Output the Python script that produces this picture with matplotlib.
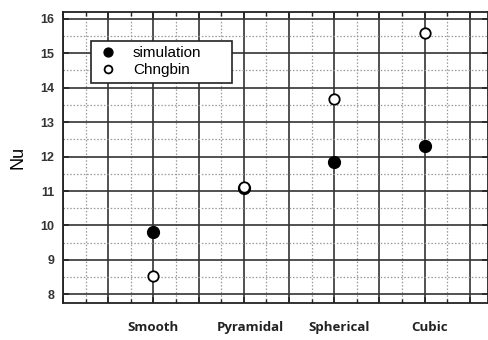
import matplotlib.pyplot as plt
from matplotlib.ticker import MultipleLocator
import matplotlib.transforms as mtransforms

# Data
surfaces = ['Smooth', 'Pyramidal', 'Spherical', 'Cubic']
x_pos = [2, 4, 6, 8]
simulation = [9.8, 11.08, 11.83, 12.3]
chngbin = [8.52, 11.12, 13.68, 15.6]

plt.rcParams['font.family'] = ['Liberation Sans', 'DejaVu Sans']

fig = plt.figure(figsize=(4.88, 3.4), dpi=100)
ax = fig.add_axes([0.129, 0.109, 0.871, 0.856])

ax.set_xlim(0, 9.4)
ax.set_ylim(7.75, 16.2)

ax.xaxis.set_major_locator(MultipleLocator(1))
ax.xaxis.set_minor_locator(MultipleLocator(0.5))
ax.yaxis.set_major_locator(MultipleLocator(1))
ax.yaxis.set_minor_locator(MultipleLocator(0.5))

ax.grid(True, which='major', color='#333333', linewidth=1.2, linestyle='-')
ax.grid(True, which='minor', color='#999999', linewidth=0.9, linestyle=(0, (1.2, 1.5)))
ax.set_axisbelow(True)

for s in ax.spines.values():
    s.set_color('#222222')
    s.set_linewidth(1.3)

ax.tick_params(which='both', direction='in', top=True, right=True, color='#222222')
ax.tick_params(which='major', length=4, width=1.1)
ax.tick_params(which='minor', length=3, width=1.0, left=False, right=False)
ax.tick_params(axis='x', labelbottom=False)
ax.tick_params(axis='y', labelsize=9, pad=6)
for lbl in ax.get_yticklabels():
    lbl.set_fontweight('bold')
    lbl.set_color('#333333')

ax.plot(x_pos, simulation, 'o', color='black', markersize=8.5, label='simulation', zorder=3)
ax.plot(x_pos, chngbin, 'o', markerfacecolor='white', markeredgecolor='black',
        markeredgewidth=1.3, markersize=7.5, label='Chngbin', zorder=4)

ax.set_ylabel('Nu', fontsize=13, labelpad=10)

trans = mtransforms.blended_transform_factory(ax.transData, ax.transAxes)
offsets = [0, 0.15, 0.1, 0.1]
for name, xp, off in zip(surfaces, x_pos, offsets):
    ax.text(xp + off, -0.085, name, transform=trans, ha='center', va='center',
            fontsize=9.5, fontweight='bold', family=['Open Sans', 'DejaVu Sans'], color='#222222')

leg = ax.legend(loc='upper left', bbox_to_anchor=(0.066, 0.0, 0.332, 0.90), mode='expand',
                fontsize=11, frameon=True, fancybox=False, edgecolor='#222222', framealpha=1,
                handlelength=1.5, handletextpad=0.9, borderpad=0.35, labelspacing=0.2,
                markerscale=0.75, borderaxespad=0)
leg.get_frame().set_linewidth(1.2)

fig.savefig('out.png', dpi=100)
